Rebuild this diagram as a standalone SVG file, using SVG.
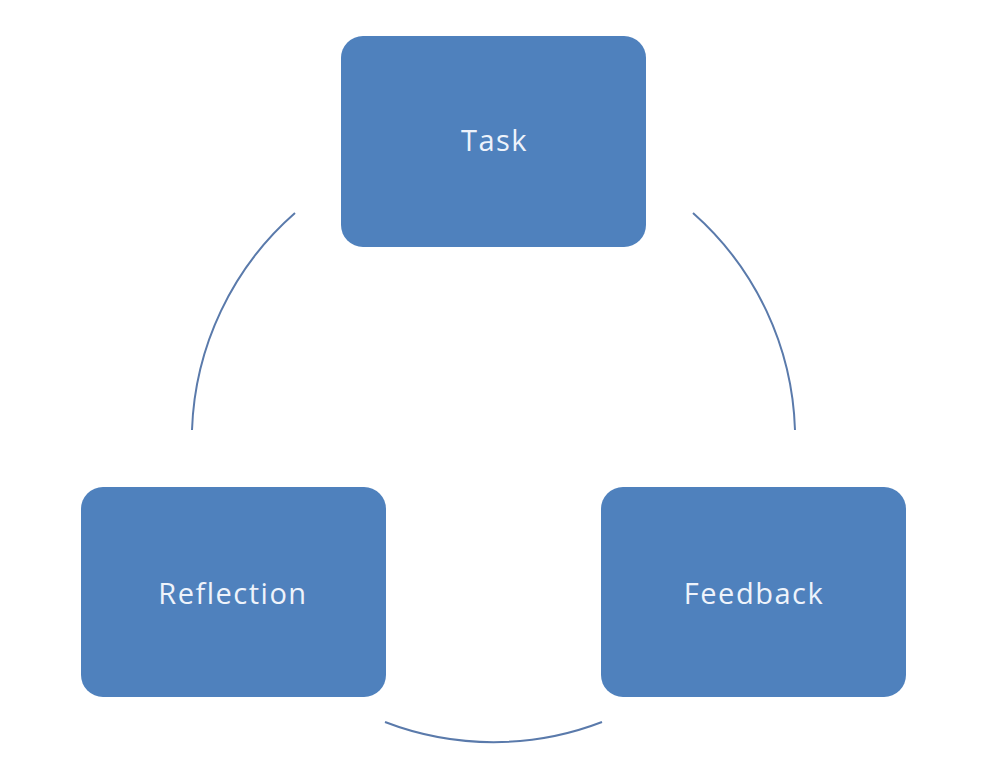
<svg xmlns="http://www.w3.org/2000/svg" width="1000" height="767" viewBox="0 0 1000 767">
<style>
.box{fill:#4f81bd;}
.lbl{font-family:"Open Sans","Liberation Sans",sans-serif;font-size:29px;letter-spacing:1.5px;fill:#eef3fb;text-anchor:middle;}
.arc{fill:none;stroke:#5a7aab;stroke-width:2;}
</style>
<rect width="1000" height="767" fill="#ffffff"/>
<g id="connectors">
<path class="arc" d="M295,213 A302,302 0 0 0 192,430"/>
<path class="arc" d="M693,213 A302,302 0 0 1 795,430"/>
<path class="arc" d="M385,722 A302,302 0 0 0 602,722"/>
</g>
<g id="task">
<rect class="box" x="341" y="36" width="305" height="211" rx="22"/>
<text class="lbl" x="494.5" y="151">Task</text>
</g>
<g id="reflection">
<rect class="box" x="81" y="487" width="305" height="210" rx="22"/>
<text class="lbl" x="233" y="604">Reflection</text>
</g>
<g id="feedback">
<rect class="box" x="601" y="487" width="305" height="210" rx="22"/>
<text class="lbl" x="754" y="604">Feedback</text>
</g>
</svg>
